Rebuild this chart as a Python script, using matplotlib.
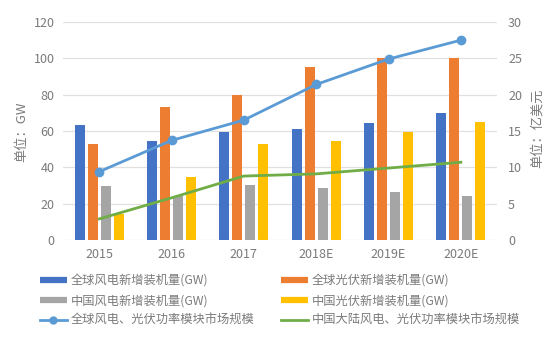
import matplotlib
matplotlib.use("Agg")
import matplotlib.pyplot as plt
from matplotlib.lines import Line2D
import numpy as np

plt.rcParams['font.family'] = ['Noto Sans CJK SC', 'DejaVu Sans']

categories = ['2015', '2016', '2017', '2018E', '2019E', '2020E']
global_wind = [63.5, 54.5, 59.5, 61, 64.5, 70]
global_pv = [53, 73, 80, 95, 100, 100]
china_wind = [30, 24, 30.5, 28.5, 26.5, 24]
china_pv = [14.5, 34.5, 53, 54.5, 59.5, 65]
global_market = [9.4, 13.7, 16.5, 21.4, 24.9, 27.5]
china_market = [2.9, 5.8, 8.8, 9.1, 9.9, 10.7]

labels = ['全球风电新增装机量(GW)', '全球光伏新增装机量(GW)',
          '中国风电新增装机量(GW)', '中国光伏新增装机量(GW)',
          '全球风电、光伏功率模块市场规模', '中国大陆风电、光伏功率模块市场规模']

c_blue, c_orange, c_gray, c_yellow = '#4472C4', '#ED7D31', '#A5A5A5', '#FFC000'
c_line1, c_line2 = '#5B9BD5', '#70AD47'
txt = '#7A7A7A'

fig = plt.figure(figsize=(5.54, 3.46), dpi=100)
ax = fig.add_axes([63/554, 1-240/346, (497-63)/554, (240-22)/346])
ax2 = ax.twinx()

x = np.arange(len(categories))
w = 0.138
pitch = 0.18
series = [(global_wind, c_blue), (global_pv, c_orange), (china_wind, c_gray), (china_pv, c_yellow)]
for i, (vals, col) in enumerate(series):
    ax.bar(x + (i - 1.5) * pitch, vals, width=w, color=col, zorder=2)

ax2.plot(x, global_market, color=c_line1, lw=2, marker='o', ms=6, zorder=3)
ax2.plot(x, china_market, color=c_line2, lw=2, zorder=3)

ax.set_xlim(-0.5, 5.5)
ax.set_ylim(0, 120)
ax.set_yticks(range(0, 121, 20))
ax2.set_ylim(0, 30)
ax2.set_yticks(range(0, 31, 5))
ax.set_xticks(x)
ax.set_xticklabels(categories)
ax.grid(axis='y', color='#E0E0E0', lw=0.9, zorder=0)
ax.set_axisbelow(True)
for a in (ax, ax2):
    for s in a.spines.values():
        s.set_visible(False)
ax.tick_params(axis='both', length=0, colors=txt, labelsize=9)
ax.tick_params(axis='y', pad=6)
ax.tick_params(axis='x', pad=6)
ax2.tick_params(axis='y', length=0, colors=txt, labelsize=9, pad=8)
ax2.set_zorder(ax.get_zorder() + 1)
ax2.patch.set_visible(False)

fig.text(22/554, 1-132/346, '单位：GW', rotation=90, color=txt, fontsize=9.5, ha='center', va='center')
fig.text(537/554, 1-128/346, '单位：亿美元', rotation=90, color=txt, fontsize=9.5, ha='center', va='center')

handles = [
    Line2D([], [], color=c_blue, lw=4.5, solid_capstyle='butt'),
    Line2D([], [], color=c_gray, lw=4.5, solid_capstyle='butt'),
    Line2D([], [], color=c_line1, lw=2, marker='o', ms=5),
    Line2D([], [], color=c_orange, lw=4.5, solid_capstyle='butt'),
    Line2D([], [], color=c_yellow, lw=4.5, solid_capstyle='butt'),
    Line2D([], [], color=c_line2, lw=2),
]
order_labels = [labels[0], labels[2], labels[4], labels[1], labels[3], labels[5]]
leg = fig.legend(handles, order_labels, ncol=2, loc='upper left',
                 bbox_to_anchor=(40/554, 1-274/346), frameon=False,
                 fontsize=8.8, handlelength=2.2, handletextpad=0.3,
                 columnspacing=2.2, labelspacing=0.58,
                 borderpad=0, borderaxespad=0)
for t in leg.get_texts():
    t.set_color(txt)

fig.savefig('out.png', dpi=100)
